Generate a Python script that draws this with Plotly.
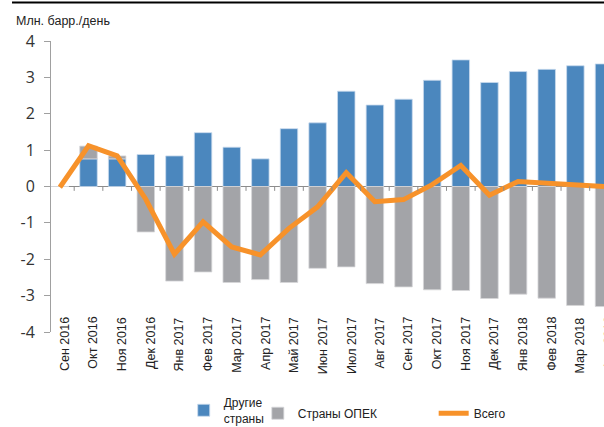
import plotly.graph_objects as go

categories = ["Сен 2016", "Окт 2016", "Ноя 2016", "Дек 2016", "Янв 2017", "Фев 2017",
              "Мар 2017", "Апр 2017", "Май 2017", "Июн 2017", "Июл 2017", "Авг 2017",
              "Сен 2017", "Окт 2017", "Ноя 2017", "Дек 2017", "Янв 2018", "Фев 2018",
              "Мар 2018", "Апр 2018"]
other = [0.0, 0.76, 0.76, 0.88, 0.84, 1.48, 1.08, 0.76, 1.59, 1.75, 2.62, 2.24,
         2.40, 2.92, 3.48, 2.86, 3.16, 3.22, 3.32, 3.37]
opec = [0.0, 0.35, 0.08, -1.25, -2.60, -2.35, -2.64, -2.56, -2.64, -2.25, -2.21, -2.67,
        -2.76, -2.84, -2.86, -3.08, -2.96, -3.07, -3.27, -3.30]
total = [-0.02, 1.12, 0.84, -0.35, -1.86, -0.97, -1.66, -1.88, -1.15, -0.56, 0.38, -0.42,
         -0.36, 0.05, 0.58, -0.24, 0.14, 0.10, 0.03, 0.0]
y_ticks = [-4, -3, -2, -1, 0, 1, 2, 3, 4]
y_ticktext = ["-4", "-3", "-2", "-1", "0", "1", "2", "3", "4"]

idx = list(range(len(categories)))

BLUE = "#4b87be"
GRAY = "#a3a4a8"
ORANGE = "#f7922a"
FONT = "Liberation Sans, Arial, sans-serif"

fig = go.Figure()
fig.add_trace(go.Bar(x=idx, y=other, name="Другие<br>страны", width=0.61,
                     marker=dict(color=BLUE, line=dict(color="#c9dbee", width=0.8)),
                     legend="legend"))
fig.add_trace(go.Bar(x=idx, y=opec, name="Страны ОПЕК", width=0.61,
                     marker=dict(color=GRAY, line=dict(color="#d6d6d8", width=0.8)),
                     legend="legend2"))
fig.add_trace(go.Scatter(x=idx, y=total, name="Всего", mode="lines",
                         line=dict(color=ORANGE, width=5), legend="legend3"))

# small ticks along the zero axis between categories
shapes = []
for i in idx[:-1]:
    shapes.append(dict(type="line", xref="x", yref="y", x0=i + 0.5, x1=i + 0.5,
                       y0=0, y1=-0.12, line=dict(color="#8c8c8c", width=1)))
# black rule near the top edge
shapes.append(dict(type="rect", xref="paper", yref="paper", layer="above",
                   x0=-0.0705, x1=1.02, y0=1.1289, y1=1.1357,
                   fillcolor="#000000", line=dict(width=0)))

# category labels (rotated), placed just above the bottom of the plot like the original
annotations = []
for i, lab in zip(idx, categories):
    annotations.append(dict(text=lab, xref="x", yref="paper", x=i, y=0.058,
                            xanchor="center", yanchor="top", textangle=-90, xshift=5,
                            showarrow=False, font=dict(family=FONT, size=12.5, color="#222")))
annotations.append(dict(text="Млн. барр./день", xref="paper", yref="paper",
                        x=-0.067, y=1.069, xanchor="left", yanchor="middle", showarrow=False,
                        font=dict(family=FONT, size=12.5, color="#222")))

legend_common = dict(orientation="h", yanchor="top", xanchor="left",
                     bgcolor="rgba(0,0,0,0)", itemwidth=30,
                     font=dict(family=FONT, size=12, color="#222"))

fig.update_layout(
    width=604, height=427,
    margin=dict(l=51, r=0, t=41, b=95, autoexpand=False),
    paper_bgcolor="white", plot_bgcolor="white",
    barmode="relative",
    showlegend=True,
    legend=dict(x=0.24, y=-0.193, valign="middle", **legend_common),
    legend2=dict(x=0.374, y=-0.23, valign="top", **legend_common),
    legend3=dict(x=0.692, y=-0.23, valign="top", **legend_common),
    xaxis=dict(range=[-0.31, 19.0], tickmode="array", tickvals=idx, showticklabels=False,
               showgrid=False, zeroline=False, showline=False, ticks="", automargin=False),
    yaxis=dict(range=[-4, 4], tickmode="array", tickvals=y_ticks, ticktext=y_ticktext,
               showgrid=False, zeroline=True, zerolinecolor="#8c8c8c", zerolinewidth=1,
               showline=True, linecolor="#a0a0a0", linewidth=1, automargin=False,
               ticks="outside", ticklen=6, tickcolor="#a0a0a0", ticklabelstandoff=6,
               tickfont=dict(family="Open Sans, sans-serif", size=16, color="#333")),
    shapes=shapes,
    annotations=annotations,
)

fig.write_html("out.html", config={"displayModeBar": False},
               post_script="document.body.style.margin='0';document.body.style.overflow='hidden';")
